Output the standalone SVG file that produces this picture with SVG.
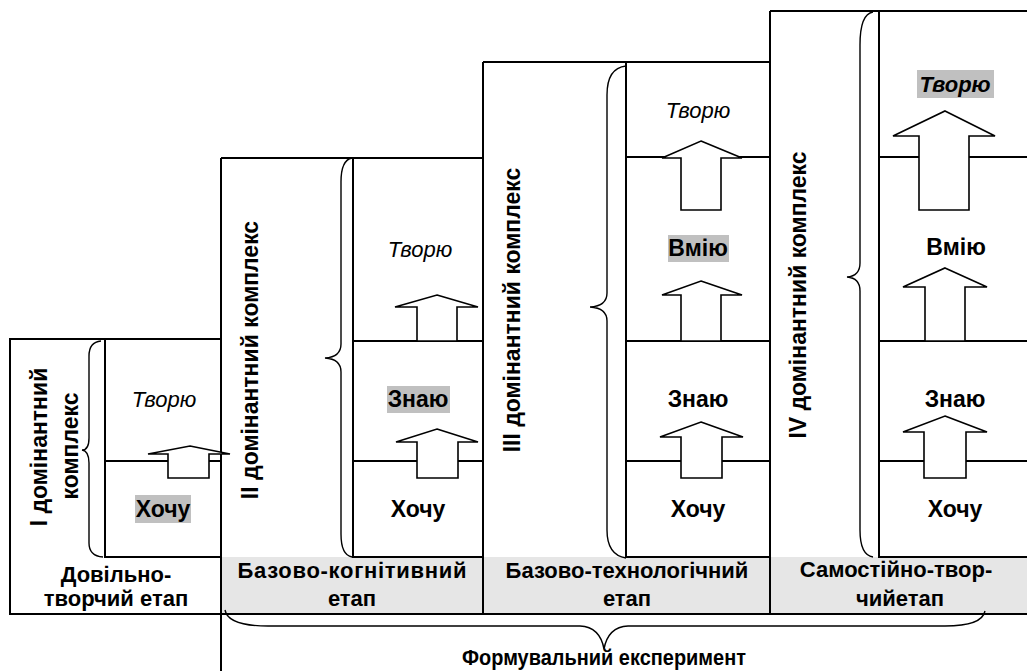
<svg xmlns="http://www.w3.org/2000/svg" width="1027" height="671" viewBox="0 0 1027 671">
<style>
.ln{stroke:#000;stroke-width:2;fill:none}
.bx{stroke:#000;stroke-width:2;fill:#fff}
.gray{fill:#e6e6e6}
.hl{fill:#c0c0c0}
.arr{fill:#fff;stroke:#000;stroke-width:1.6;stroke-linejoin:miter}
.br{fill:none;stroke:#000;stroke-width:1.4}
.t{font-family:"Liberation Sans",Arial,sans-serif;font-size:23px;font-weight:bold;text-anchor:middle;fill:#000}
.b{font-family:"Liberation Sans",Arial,sans-serif;font-size:22px;font-weight:bold;text-anchor:middle;fill:#000}
.i{font-family:"Liberation Sans",Arial,sans-serif;font-size:22px;font-style:italic;text-anchor:middle;fill:#000}
.bi{font-family:"Liberation Sans",Arial,sans-serif;font-size:22px;font-style:italic;font-weight:bold;text-anchor:middle;fill:#000}
</style>
<rect width="1027" height="671" fill="#fff"/>
<g id="stage1">
<rect x="10" y="339" width="211" height="275" class="bx"/>
<rect x="105" y="339" width="116" height="218" class="bx"/>
<line x1="105" y1="461" x2="221" y2="461" class="ln"/>
<path class="br" d="M101,341 Q89,342 89,356 L89,438 Q89,450 82,450 Q89,451 89,463 L89,543 Q89,556 103,557"/>
<text class="t" transform="translate(47,447) rotate(-90)">І домінантний</text>
<text class="t" transform="translate(78,446) rotate(-90)">комплекс</text>
<rect x="135" y="495" width="56" height="28" class="hl"/>
<text class="i" x="164" y="407">Творю</text>
<text class="t" x="163" y="517">Хочу</text>
<text class="b" x="116" y="582">Довільно-</text>
<text class="b" x="116" y="606">творчий етап</text>
</g>
<g id="stage2">
<rect x="221" y="557" width="262" height="57" class="gray"/>
<path class="ln" d="M221,158 H483"/>
<rect x="353" y="158" width="130" height="399" class="bx"/>
<line x1="353" y1="341" x2="483" y2="341" class="ln"/>
<line x1="353" y1="461" x2="483" y2="461" class="ln"/>
<path class="br" d="M352,158 Q341,160 341,182 L341,344 Q341,357 325,358 Q341,359 341,372 L341,534 Q341,555 352,557"/>
<text class="t" transform="translate(258,360) rotate(-90)">ІІ домінантний комплекс</text>
<rect x="387" y="386" width="63" height="27" class="hl"/>
<text class="i" x="420" y="257">Творю</text>
<text class="t" x="418" y="407">Знаю</text>
<text class="t" x="418" y="517">Хочу</text>
<text class="b" x="352" y="578" textLength="229">Базово-когнітивний</text>
<text class="b" x="352" y="606">етап</text>
</g>
<g id="stage3">
<rect x="483" y="557" width="287" height="57" class="gray"/>
<path class="ln" d="M483,62 H770"/>
<rect x="626" y="62" width="144" height="495" class="bx"/>
<line x1="626" y1="157" x2="770" y2="157" class="ln"/>
<line x1="626" y1="341" x2="770" y2="341" class="ln"/>
<line x1="626" y1="461" x2="770" y2="461" class="ln"/>
<path class="br" d="M626,66 Q607,68 607,95 L607,293 Q607,306 590,307 Q607,308 607,321 L607,530 Q607,555 626,558"/>
<text class="t" transform="translate(520,310) rotate(-90)">ІІІ домінантний комплекс</text>
<rect x="668" y="235" width="61" height="27" class="hl"/>
<text class="i" x="698" y="118">Творю</text>
<text class="t" x="698" y="256">Вмію</text>
<text class="t" x="698" y="407">Знаю</text>
<text class="t" x="698" y="517">Хочу</text>
<text class="b" x="627" y="578">Базово-технологічний</text>
<text class="b" x="627" y="606">етап</text>
</g>
<g id="stage4">
<rect x="770" y="557" width="257" height="57" class="gray"/>
<path class="ln" d="M770,11 H1027"/>
<rect x="879" y="11" width="160" height="546" class="bx"/>
<line x1="879" y1="157" x2="1027" y2="157" class="ln"/>
<line x1="879" y1="341" x2="1027" y2="341" class="ln"/>
<line x1="879" y1="461" x2="1027" y2="461" class="ln"/>
<path class="br" d="M873,12 Q860,14 860,45 L860,263 Q860,276 847,277 Q860,278 860,291 L860,530 Q860,555 873,557"/>
<text class="t" transform="translate(806,295) rotate(-90)">ІV домінантний комплекс</text>
<rect x="917" y="70" width="77" height="28" class="hl"/>
<text class="bi" x="955" y="92">Творю</text>
<text class="t" x="956" y="255">Вмію</text>
<text class="t" x="955" y="407">Знаю</text>
<text class="t" x="955" y="517">Хочу</text>
<text class="b" x="896" y="577">Самостійно-твор-</text>
<text class="b" x="900" y="606">чийетап</text>
</g>
<g id="frame">
<line x1="221" y1="158" x2="221" y2="671" class="ln"/>
<line x1="483" y1="62" x2="483" y2="614" class="ln"/>
<line x1="770" y1="11" x2="770" y2="614" class="ln"/>
<line x1="10" y1="614" x2="1027" y2="614" class="ln"/>
</g>
<g id="connectors">
<polygon class="arr" points="190,446 230,454 209,454 209,478 168,478 168,454 148,454"/>
<polygon class="arr" points="437,295 478,307 457,307 457,341 417,341 417,307 395,307"/>
<polygon class="arr" points="437,429 478,442 458,442 458,478 417,478 417,442 396,442"/>
<polygon class="arr" points="701,141 742,158 721,158 721,210 681,210 681,158 662,158"/>
<polygon class="arr" points="701,281 742,295 721,295 721,341 681,341 681,295 662,295"/>
<polygon class="arr" points="701,422 743,437 722,437 722,478 681,478 681,437 660,437"/>
<polygon class="arr" points="945,111 995,136 969,136 969,210 919,210 919,136 893,136"/>
<polygon class="arr" points="945,268 987,287 965,287 965,341 925,341 925,287 903,287"/>
<polygon class="arr" points="945,416 987,432 966,432 966,478 924,478 924,432 903,432"/>
</g>
<g id="experiment">
<path class="br" d="M225,610 Q228,626 268,626 L580,626 Q600,627 604,649 Q608,627 628,626 L945,626 Q982,626 985,611"/>
<text class="b" x="604" y="665" textLength="284" lengthAdjust="spacingAndGlyphs">Формувальний експеримент</text>
</g>
</svg>
